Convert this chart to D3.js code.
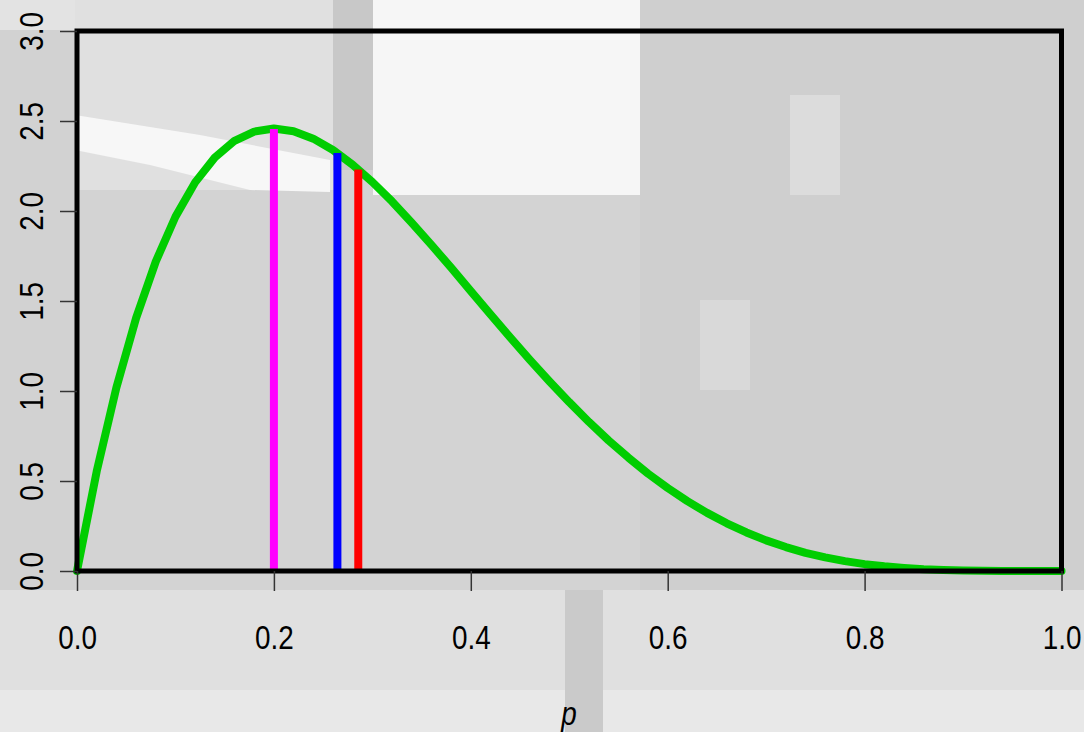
<!DOCTYPE html>
<html>
<head>
<meta charset="utf-8">
<script src="https://cdn.jsdelivr.net/npm/d3@7"></script>
<style>
  html, body { margin: 0; padding: 0; background: #d4d4d4; }
  svg { display: block; }
  text { font-family: "Liberation Sans", Arial, sans-serif; fill: #000; }
</style>
</head>
<body>
<svg id="chart" width="1084" height="732"></svg>
<script>
// ---- data ----
const pValues = [0, 0.02, 0.04, 0.06, 0.08, 0.10, 0.12, 0.14, 0.16, 0.18,
  0.20, 0.22, 0.24, 0.26, 0.28, 0.30, 0.32, 0.34, 0.36, 0.38,
  0.40, 0.42, 0.44, 0.46, 0.48, 0.50, 0.52, 0.54, 0.56, 0.58,
  0.60, 0.62, 0.64, 0.66, 0.68, 0.70, 0.72, 0.74, 0.76, 0.78,
  0.80, 0.82, 0.84, 0.86, 0.88, 0.90, 0.92, 0.94, 0.96, 0.98, 1.00];
const densityValues = [0, 0.553, 1.019, 1.405, 1.719, 1.968, 2.159, 2.297, 2.390, 2.441,
  2.458, 2.443, 2.402, 2.339, 2.257, 2.161, 2.053, 1.935, 1.812, 1.685,
  1.555, 1.426, 1.298, 1.173, 1.053, 0.938, 0.828, 0.725, 0.630, 0.541,
  0.461, 0.388, 0.323, 0.265, 0.214, 0.170, 0.133, 0.101, 0.076, 0.055,
  0.038, 0.026, 0.017, 0.010, 0.006, 0.003, 0.001, 0.0004, 0.0001, 0, 0];
const markerNames = ["mode", "median", "mean"];
const markerP = [0.2, 0.2645, 0.2857];
const markerDensity = [2.456, 2.322, 2.231];
const markerColors = ["#FF00FF", "#0000FF", "#FF0000"];
const xTicks = [0, 0.2, 0.4, 0.6, 0.8, 1.0];
const yTicks = [0, 0.5, 1.0, 1.5, 2.0, 2.5, 3.0];
const xLabel = "p";

// ---- drawing ----
const svg = d3.select("#chart");
const NARROW = 0.82; // emulate a narrow sans face

// background: approximate greyscale photo
const bg = svg.append("g").attr("class", "background");
const bgRects = [
  [0, 0, 1084, 732, "#d3d3d3"],
  [0, 590, 1084, 142, "#e0e0e0"],
  [0, 690, 1084, 42, "#e8e8e8"],
  [565, 590, 38, 142, "#cacaca"],
  [0, 0, 75, 590, "#d2d2d2"],
  [0, 0, 640, 30, "#e3e3e3"],
  [75, 0, 260, 190, "#e0e0e0"],
  [373, 0, 267, 195, "#f6f6f6"],
  [333, 0, 40, 170, "#c8c8c8"],
  [640, 0, 444, 590, "#cfcfcf"],
  [790, 95, 50, 100, "#dcdcdc"],
  [700, 300, 50, 90, "#d9d9d9"],
];
bg.selectAll("rect").data(bgRects).join("rect")
  .attr("x", d => d[0]).attr("y", d => d[1])
  .attr("width", d => d[2]).attr("height", d => d[3])
  .attr("fill", d => d[4]);
bg.append("polygon")
  .attr("points", "75,115 200,135 330,160 330,192 250,190 150,165 75,150")
  .attr("fill", "#f7f7f7");

const x = d3.scaleLinear().domain([0, 1]).range([77, 1061.5]);
const y = d3.scaleLinear().domain([0, 3]).range([571, 31]);

// density curve
const curve = pValues.map((p, i) => [p, densityValues[i]]);
svg.append("path")
  .datum(curve)
  .attr("d", d3.line().x(d => x(d[0])).y(d => y(d[1])))
  .attr("fill", "none")
  .attr("stroke", "#00CD00")
  .attr("stroke-width", 8)
  .attr("stroke-linejoin", "round")
  .attr("stroke-linecap", "round");

// vertical markers
svg.selectAll("line.marker").data(markerNames).join("line")
  .attr("class", "marker")
  .attr("x1", (d, i) => x(markerP[i])).attr("x2", (d, i) => x(markerP[i]))
  .attr("y1", y(0)).attr("y2", (d, i) => y(markerDensity[i]))
  .attr("stroke", (d, i) => markerColors[i])
  .attr("stroke-width", 8);

// box
svg.append("rect")
  .attr("x", x(0)).attr("y", y(3))
  .attr("width", x(1) - x(0)).attr("height", y(0) - y(3))
  .attr("fill", "none").attr("stroke", "#000").attr("stroke-width", 5);

// axes
const xAxis = d3.axisBottom(x).tickValues(xTicks).tickFormat(d3.format(".1f")).tickSize(20).tickPadding(0);
const gx = svg.append("g").attr("transform", `translate(0,${y(0)})`).call(xAxis);
gx.select(".domain").remove();
gx.selectAll(".tick line").attr("stroke", "#333").attr("stroke-width", 1.5);
gx.selectAll(".tick text")
  .attr("y", null).attr("dy", null)
  .attr("font-size", 34).attr("font-family", null)
  .attr("transform", `translate(0,78) scale(${NARROW},1)`);

const yAxis = d3.axisLeft(y).tickValues(yTicks).tickFormat(d3.format(".1f")).tickSize(17).tickPadding(0);
const gy = svg.append("g").attr("transform", `translate(${x(0)},0)`).call(yAxis);
gy.select(".domain").remove();
gy.selectAll(".tick line").attr("stroke", "#333").attr("stroke-width", 1.5);
gy.selectAll(".tick text")
  .attr("x", null).attr("dy", null)
  .attr("text-anchor", "middle")
  .attr("font-size", 34).attr("font-family", null)
  .attr("transform", `translate(-34,0) rotate(-90) scale(${NARROW},1)`);

svg.append("text")
  .attr("text-anchor", "middle")
  .attr("font-size", 34)
  .attr("font-style", "italic")
  .attr("transform", `translate(569,725) scale(${NARROW},1)`)
  .text(xLabel);
</script>
</body>
</html>
